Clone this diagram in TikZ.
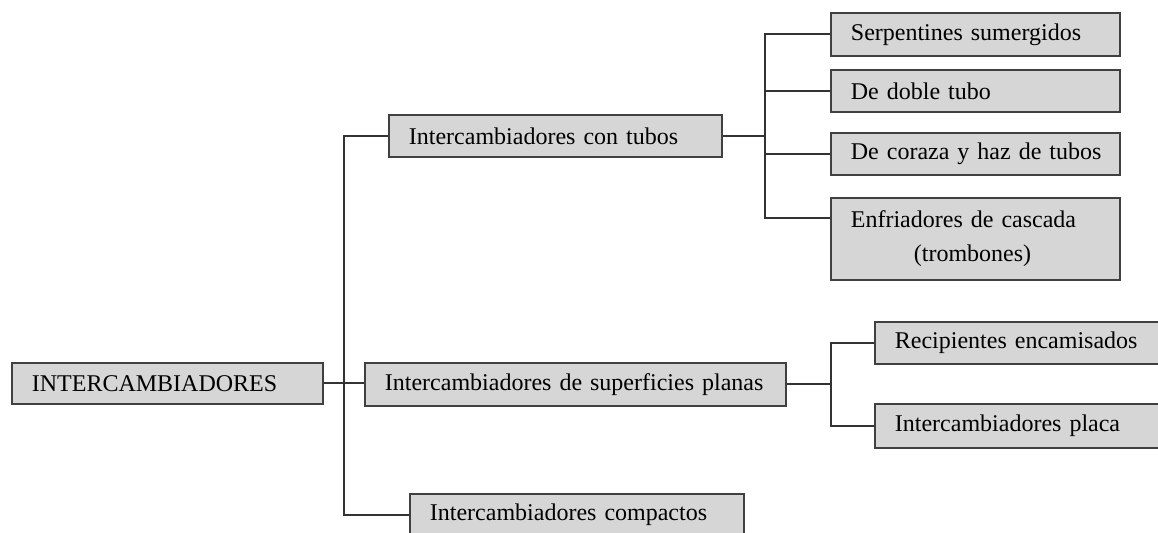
\documentclass[tikz,border=0pt]{standalone}
\usepackage{fontspec}
\setmainfont{Liberation Serif}
\begin{document}
\begin{tikzpicture}[x=0.5pt,y=-0.5pt,
  box/.style={draw=black!75, line width=0.9pt, fill=black!16, anchor=north west, inner xsep=10pt, inner ysep=0pt, align=left, font=\fontsize{12}{17}\selectfont, text=black},
  conn/.style={draw=black!80, line width=0.9pt}]
\useasboundingbox (0,0) rectangle (1158,533);
\clip (0,0) rectangle (1158,533);
\fill[white] (0,0) rectangle (1158,533);
\node[box, text width=135.5pt, minimum height=20.5pt] (root) at (11,362) {\mbox{INTERCAMBIADORES}};
\node[box, text width=146.5pt, minimum height=21pt] (tubos) at (388,114) {\mbox{Intercambiadores con tubos}};
\node[box, text width=190.5pt, minimum height=21.5pt] (planas) at (364,362) {\mbox{Intercambiadores de superficies planas}};
\node[box, text width=147pt, minimum height=21pt] (comp) at (409,493) {\mbox{Intercambiadores compactos}};
\node[box, text width=124.5pt, minimum height=21.5pt] (serp) at (830,12) {\mbox{Serpentines sumergidos}};
\node[box, text width=124.5pt, minimum height=21pt] (doble) at (830,69) {\mbox{De doble tubo}};
\node[box, text width=124.5pt, minimum height=21pt] (coraza) at (830,132) {\mbox{De coraza y haz de tubos}};
\node[box, text width=124.5pt, minimum height=41pt] (enfr) at (830,197) {\mbox{Enfriadores de cascada}\\\hspace*{31.5pt}(trombones)\\[-7pt]};
\node[box, text width=128pt, minimum height=21pt] (recip) at (874,321) {\mbox{Recipientes encamisados}};
\node[box, text width=128pt, minimum height=22pt] (placa) at (874,403) {\mbox{Intercambiadores placa}};
% left trunk
\coordinate (j1) at (344,383);
\draw[conn] (root.east) -- (root.east -| planas.west);
\draw[conn] (tubos.west) -| (j1) |- (comp.west);
% tubos branch
\coordinate (j2) at (765,135);
\coordinate (j2b) at (765,218);
\draw[conn] (tubos.east) -- (tubos.east -| j2);
\draw[conn] (serp.west) -| (j2b) -- (j2b -| enfr.west);
\draw[conn] (doble.west) -- (doble.west -| j2);
\draw[conn] (coraza.west) -- (coraza.west -| j2);
% planas branch
\coordinate (j3) at (831,383);
\draw[conn] (planas.east) -- (planas.east -| j3);
\draw[conn] (recip.west) -| (j3) |- (placa.west);
\end{tikzpicture}
\end{document}
